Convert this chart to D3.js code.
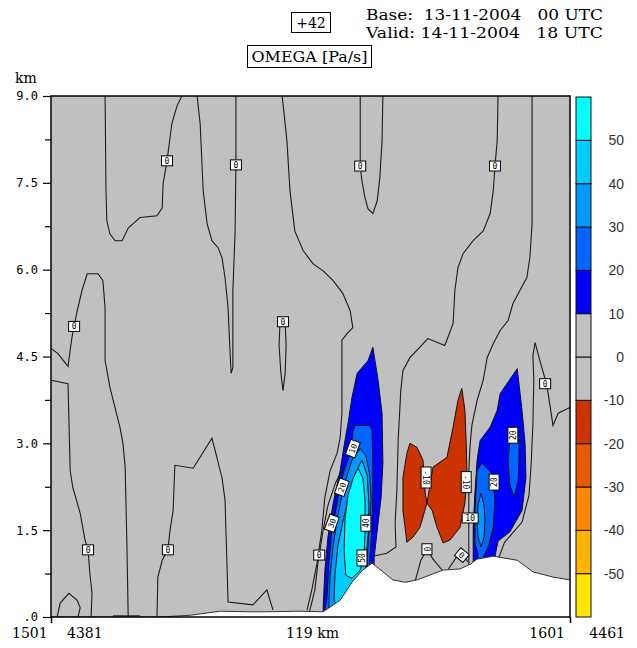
<!DOCTYPE html>
<html>
<head>
<meta charset="utf-8">
<script src="https://cdn.jsdelivr.net/npm/d3@7"></script>
<style>
  body { margin: 0; background: #fff; }
  svg { display: block; }
  text { white-space: pre; }
</style>
</head>
<body>
<svg class="chart" width="637" height="648"></svg>
<script>
// vertical section, distance along the section (km) vs height (km)
const sectionLength = 119;
const heightTicks = [0, 1.5, 3, 4.5, 6, 7.5, 9];
const heightLabels = ['.0', '1.5', '3.0', '4.5', '6.0', '7.5', '9.0'];
const minorTicks = [0.75, 2.25, 3.75, 5.25, 6.75, 8.25];
const colorLevels = [-60, -50, -40, -30, -20, -10, 0, 10, 20, 30, 40, 50, 60];
const levelColors = ['#ffe600', '#ffb400', '#ff8800', '#e65a00', '#cc3300', '#c0c0c0',
  '#c0c0c0', '#0000ff', '#0066ff', '#0099ff', '#00ccff', '#00ffff'];
const levelLabels = [-50, -40, -30, -20, -10, 0, 10, 20, 30, 40, 50];

// orography (white)
const terrain = [[0, 0], [25.0, 0], [31.9, 0.03], [38.8, 0.10], [45.6, 0.09], [49.1, 0.09],
  [57.1, 0.10], [62.4, 0.09], [66.3, 0.29], [69.2, 0.62], [71.5, 0.81], [73.6, 0.93],
  [76.1, 0.78], [78.4, 0.64], [81.2, 0.60], [83.9, 0.64], [89.9, 0.81], [93.8, 0.83],
  [96.1, 0.91], [97.7, 1.00], [101.4, 1.05], [106.9, 0.98], [110.5, 0.78], [115.1, 0.69],
  [119, 0.64]];

// shaded omega areas, lower bound of the class in Pa/s
const westUp10 = [[73.8, 4.66], [75.0, 4.09], [75.9, 3.52], [76.1, 2.66], [75.7, 2.07],
  [74.8, 1.50], [74.1, 1.03], [74.1, 0.72], [62.4, 0.03], [62.4, 0.17], [62.8, 0.81],
  [63.5, 1.38], [64.7, 1.97], [66.3, 2.53], [67.4, 3.05], [68.1, 3.34], [69.0, 3.79],
  [70.2, 4.21], [72.7, 4.43]];
const westUp20 = [[69.7, 3.31], [73.1, 3.31], [73.6, 3.22], [73.8, 2.66], [73.8, 2.07],
  [73.6, 1.50], [73.1, 1.03], [73.1, 0.64], [64.0, 0.03], [62.8, 0.12], [63.3, 0.34],
  [63.7, 0.93], [64.4, 1.50], [65.6, 1.97], [67.0, 2.48], [68.6, 2.83], [69.3, 3.22]];
const westUp30 = [[70.9, 2.91], [72.2, 2.79], [73.1, 2.45], [73.4, 2.02], [72.9, 1.50],
  [72.5, 1.03], [72.5, 0.64], [65.1, 0.03], [63.7, 0.16], [64.0, 0.72], [64.7, 1.24],
  [65.8, 1.76], [67.2, 2.28], [69.0, 2.71]];
const westUp40 = [[71.3, 2.71], [72.5, 2.45], [72.9, 1.93], [72.7, 1.41], [72.2, 0.98],
  [72.2, 0.64], [66.3, 0.12], [64.9, 0.29], [65.1, 0.72], [65.8, 1.24], [67.0, 1.67],
  [68.3, 2.10], [69.9, 2.50]];
const westUp50 = [[70.4, 2.57], [71.5, 2.40], [72.0, 2.02], [72.0, 1.50], [71.8, 1.07],
  [70.9, 0.81], [69.0, 0.67], [67.6, 0.72], [67.2, 1.16], [67.4, 1.67], [68.1, 2.10],
  [69.3, 2.40]];
const eastUp10 = [[106.9, 4.29], [108.0, 3.57], [108.7, 3.00], [108.9, 2.41], [108.0, 1.84],
  [105.2, 1.47], [102.5, 1.31], [101.8, 1.05], [101.8, 0.81], [96.8, 0.72], [96.8, 1.10],
  [96.8, 1.55], [97.2, 2.14], [97.7, 2.71], [98.4, 3.05], [100.7, 3.28], [102.3, 3.57],
  [103.0, 3.86]];
const eastUp20a = [[98.8, 2.66], [101.1, 2.48], [101.8, 2.02], [101.4, 1.55], [100.2, 1.21],
  [99.1, 1.03], [99.1, 0.81], [97.9, 0.81], [97.9, 1.10], [97.2, 1.28], [97.2, 1.84],
  [97.7, 2.53]];
const eastUp20b = [[106.9, 3.31], [107.3, 3.05], [107.3, 2.71], [107.1, 2.36], [106.2, 2.07],
  [105.2, 2.28], [104.8, 2.71], [105.2, 3.05]];
const eastUp30 = [[98.6, 2.14], [99.3, 1.93], [99.5, 1.67], [99.3, 1.38], [98.6, 1.21],
  [97.9, 1.38], [97.7, 1.67], [97.9, 1.93]];
const down10 = [[82.3, 3.00], [83.9, 2.93], [85.3, 2.71], [85.8, 2.14], [86.2, 1.97],
  [87.6, 2.59], [90.8, 2.76], [92.2, 3.28], [93.3, 3.74], [94.2, 3.95], [94.9, 3.57],
  [95.2, 3.00], [95.4, 2.41], [94.9, 1.97], [93.8, 1.55], [91.5, 1.33], [89.9, 1.28],
  [88.5, 1.55], [87.4, 1.84], [86.2, 1.97], [84.6, 1.55], [83.0, 1.38], [81.6, 1.29],
  [80.7, 1.84], [80.7, 2.41], [81.6, 2.83]];

const shadedAreas = [
  { value: 10, points: westUp10 }, { value: 20, points: westUp20 },
  { value: 30, points: westUp30 }, { value: 40, points: westUp40 },
  { value: 50, points: westUp50 }, { value: 10, points: eastUp10 },
  { value: 20, points: eastUp20a }, { value: 20, points: eastUp20b },
  { value: 30, points: eastUp30 }, { value: -20, points: down10 }
];

// unshaded isolines (mostly the zero line)
const isolines = [
  [[0, 4.64], [1.6, 4.55], [3.9, 4.33], [4.8, 4.83], [6.0, 5.29], [7.1, 5.64], [8.3, 5.93],
    [10.8, 5.93], [11.9, 5.81], [12.4, 5.34], [12.4, 4.43], [13.5, 3.97], [15.8, 3.28],
    [16.5, 3.00], [17.0, 2.59], [17.4, 1.28], [17.7, 0]],
  [[0, 4.09], [3.9, 4.03], [4.4, 2.53], [5.0, 2.24], [6.7, 1.79], [7.8, 1.33], [8.5, 1.16],
    [8.9, 0.76], [9.4, 0.41], [9.2, 0]],
  [[1.4, 0], [2.1, 0.24], [4.1, 0.41], [6.0, 0.29], [6.7, 0.16], [6.2, 0]],
  [[12.4, 9], [12.6, 7.41], [12.8, 6.84], [13.5, 6.62], [14.7, 6.50], [16.3, 6.50],
    [17.7, 6.72], [20.4, 6.90], [24.3, 6.93], [25.5, 7.07], [25.7, 7.48], [26.6, 7.88],
    [27.7, 8.52], [28.9, 8.83], [30.0, 9]],
  [[33.5, 9], [34.2, 8.52], [34.9, 7.36], [35.8, 6.79], [36.9, 6.50], [38.3, 6.38],
    [39.2, 6.21], [39.9, 5.86], [40.6, 5.34], [41.0, 4.66], [41.3, 4.21], [41.7, 4.31],
    [41.7, 5.64], [42.2, 6.62], [42.4, 7.81], [42.4, 9]],
  [[52.5, 5.09], [52.3, 4.69], [52.7, 4.22], [53.2, 3.91], [53.7, 4.22], [53.9, 4.69],
    [53.7, 5.09]],
  [[53.0, 9], [53.2, 8.86], [54.1, 8.22], [54.8, 7.36], [55.9, 6.67], [57.8, 6.33],
    [60.1, 6.10], [62.4, 5.98], [64.7, 5.81], [66.9, 5.59], [68.6, 5.29], [69.2, 5.00],
    [67.9, 4.90], [66.7, 4.78], [66.7, 4.38], [66.7, 3.52], [66.3, 3.10], [65.6, 2.83],
    [64.0, 2.53], [62.8, 2.07], [62.1, 1.50], [61.0, 0.93], [59.8, 0.47], [58.7, 0.12]],
  [[24.3, 0], [24.5, 0.69], [25.5, 0.98], [26.8, 1.16], [27.3, 1.50], [28.0, 1.84],
    [28.4, 2.62], [32.6, 2.57], [36.9, 3.09], [39.2, 2.41], [39.9, 2.02], [40.6, 0.26],
    [46.3, 0.21], [49.5, 0.47], [50.9, 0.12]],
  [[70.9, 9], [70.9, 7.79], [71.3, 7.53], [72.0, 7.24], [72.7, 7.05], [73.8, 6.97],
    [74.8, 7.19], [75.4, 7.59], [75.9, 8.22], [76.1, 9]],
  [[102.5, 9], [102.3, 8.22], [101.8, 7.79], [101.4, 7.36], [100.7, 6.97], [99.1, 6.67],
    [96.8, 6.50], [94.5, 6.28], [93.3, 6.03], [92.6, 5.64], [92.2, 5.07], [90.3, 4.69],
    [86.4, 4.81], [84.6, 4.66], [82.3, 4.48], [80.7, 4.26], [80.2, 3.91], [79.6, 3.05],
    [79.3, 2.19], [78.9, 1.62], [79.1, 1.21], [77.0, 1.10], [73.8, 1.05]],
  [[110.3, 9], [110.3, 6.79], [109.8, 6.21], [109.1, 5.86], [107.5, 5.64], [105.9, 5.41],
    [104.8, 5.12], [103.0, 4.95], [101.4, 4.72], [100.0, 4.48], [99.1, 4.09], [97.7, 3.74],
    [96.5, 3.31], [96.1, 2.97], [95.8, 2.53], [95.8, 2.02], [95.8, 1.50], [95.8, 0.90]],
  [[119, 3.62], [116.3, 3.52], [115.1, 3.31], [114.4, 3.66], [113.7, 4.00], [112.1, 4.43],
    [111.0, 4.74], [110.5, 4.52], [110.7, 4.09], [110.5, 3.34], [110.1, 2.66], [109.6, 2.10],
    [108.0, 1.64], [104.0, 1.29], [102.7, 1.03]],
  [[59.2, 0.07], [60.5, 0.47], [61.2, 0.93], [62.4, 1.50], [63.5, 1.93], [65.3, 2.33],
    [66.7, 2.53]],
  [[83.5, 0.62], [84.8, 0.98], [86.2, 1.16], [87.6, 1.00], [89.9, 0.79]],
  [[90.8, 0.79], [93.1, 1.05], [94.2, 1.10], [95.6, 0.95]],
  [[14.2, 0.02], [20.4, 0.02]],
  [[34.9, 0.02], [36.5, 0.02]]
];

// contour labels: distance, height, text, angle
const isolineLabels = [
  [5.3, 5.02, '0', 0], [8.5, 1.16, '0', 0], [26.6, 7.88, '0', 0], [26.8, 1.16, '0', 0],
  [42.4, 7.81, '0', 0], [53.2, 5.10, '0', 0], [70.9, 7.79, '0', 0], [101.8, 7.79, '0', 0],
  [113.3, 4.03, '0', 0], [69.2, 2.91, '10', -70], [66.7, 2.24, '20', -70],
  [64.4, 1.62, '30', -70], [61.5, 1.07, '0', 0], [72.2, 1.62, '40', -90],
  [71.3, 1.02, '50', -90], [86.0, 2.41, '-10', 90], [95.2, 2.33, '-10', 90],
  [96.1, 1.71, '10', 0], [101.6, 2.33, '20', -90], [105.9, 3.14, '20', -90],
  [86.2, 1.17, '0', 90], [94.2, 1.07, '0', 40]
];

const startApp = () => {
  const plot = { left: 51, right: 570, top: 96, bottom: 617 };
  const bar = { left: 576, right: 591, top: 97, bottom: 617 };
  const serif = 'DejaVu Serif, serif';

  const x = d3.scaleLinear().domain([0, sectionLength]).range([plot.left, plot.right]);
  const y = d3.scaleLinear().domain([0, 9]).range([plot.bottom, plot.top]);
  const c = d3.scaleLinear().domain([-60, 60]).range([bar.bottom, bar.top]);
  const color = d3.scaleThreshold()
    .domain(colorLevels.slice(1, -1))
    .range(levelColors);

  const svg = d3.select('.chart');
  const line = d3.line().x((p) => x(p[0])).y((p) => y(p[1]));

  svg.append('clipPath').attr('id', 'plotClip')
    .append('rect')
    .attr('x', plot.left).attr('y', plot.top)
    .attr('width', plot.right - plot.left).attr('height', plot.bottom - plot.top);

  const field = svg.append('g').attr('clip-path', 'url(#plotClip)');

  field.append('rect')
    .attr('x', plot.left).attr('y', plot.top)
    .attr('width', plot.right - plot.left).attr('height', plot.bottom - plot.top)
    .attr('fill', color(0));

  field.selectAll('path.area')
    .data(shadedAreas)
    .enter()
    .append('path')
    .attr('class', 'area')
    .attr('d', (a) => line(a.points) + 'Z')
    .attr('fill', (a) => color(a.value + 5))
    .attr('stroke', '#111')
    .attr('stroke-width', 1);

  field.selectAll('path.iso')
    .data(isolines)
    .enter()
    .append('path')
    .attr('class', 'iso')
    .attr('d', line)
    .attr('fill', 'none')
    .attr('stroke', '#1a1a1a')
    .attr('stroke-width', 1.1);

  const ground = terrain.concat([[sectionLength, -0.2], [0, -0.2]]);
  field.append('path')
    .attr('d', line(ground) + 'Z')
    .attr('fill', '#fff')
    .attr('stroke', 'none');
  field.append('path')
    .attr('d', line(terrain))
    .attr('fill', 'none')
    .attr('stroke', '#333')
    .attr('stroke-width', 1);

  const labels = field.selectAll('g.lab')
    .data(isolineLabels)
    .enter()
    .append('g')
    .attr('class', 'lab')
    .attr('transform', (l) => `translate(${x(l[0])},${y(l[1])}) rotate(${l[3]})`);
  labels.append('rect')
    .attr('x', (l) => -(l[2].length * 5 + 6) / 2)
    .attr('y', -5)
    .attr('width', (l) => l[2].length * 5 + 6)
    .attr('height', 10)
    .attr('fill', '#fff')
    .attr('stroke', '#000')
    .attr('stroke-width', 1);
  labels.append('text')
    .attr('text-anchor', 'middle')
    .attr('y', 3)
    .attr('font-family', 'DejaVu Sans Mono, monospace')
    .attr('font-size', 8)
    .text((l) => l[2]);

  // frame and axes
  svg.append('rect')
    .attr('x', plot.left).attr('y', plot.top)
    .attr('width', plot.right - plot.left).attr('height', plot.bottom - plot.top)
    .attr('fill', 'none')
    .attr('stroke', '#000')
    .attr('stroke-width', 1.5);

  const yAxis = svg.append('g')
    .attr('transform', `translate(${plot.left},0)`)
    .call(d3.axisLeft(y).tickValues(heightTicks).tickSize(8).tickSizeOuter(0)
      .tickFormat((d, i) => heightLabels[i]));
  yAxis.select('.domain').remove();
  yAxis.selectAll('text')
    .attr('font-family', 'DejaVu Sans Mono, monospace')
    .attr('font-size', 12)
    .attr('fill', '#000')
    .attr('x', -13);
  yAxis.selectAll('line').attr('stroke', '#000').attr('stroke-width', 1.2);

  svg.append('g')
    .attr('transform', `translate(${plot.left},0)`)
    .call(d3.axisLeft(y).tickValues(minorTicks).tickSize(6).tickFormat(''))
    .call((g) => g.select('.domain').remove())
    .selectAll('line').attr('stroke', '#000').attr('stroke-width', 1.2);

  svg.append('g')
    .attr('transform', `translate(0,${plot.bottom})`)
    .call(d3.axisBottom(x).tickValues([0, sectionLength]).tickSize(6).tickFormat(''))
    .call((g) => g.select('.domain').remove())
    .selectAll('line').attr('stroke', '#000').attr('stroke-width', 1.5);

  svg.append('text').attr('x', 15).attr('y', 83)
    .attr('font-family', serif).attr('font-size', 14).text('km');

  const bottomText = [
    { t: '1501', x: 12, a: 'start' }, { t: '4381', x: 67, a: 'start' },
    { t: '119 km', x: 286, a: 'start' },
    { t: '1601', x: 565, a: 'end' }, { t: '4461', x: 625, a: 'end' }
  ];
  svg.selectAll('text.bottom')
    .data(bottomText)
    .enter()
    .append('text')
    .attr('class', 'bottom')
    .attr('x', (d) => d.x).attr('y', 638)
    .attr('text-anchor', (d) => d.a)
    .attr('font-family', serif).attr('font-size', 14)
    .text((d) => d.t);

  // colour bar
  const bands = d3.pairs(colorLevels);
  svg.selectAll('rect.band')
    .data(bands)
    .enter()
    .append('rect')
    .attr('class', 'band')
    .attr('x', bar.left)
    .attr('y', (b) => c(b[1]))
    .attr('width', bar.right - bar.left)
    .attr('height', (b) => c(b[0]) - c(b[1]))
    .attr('fill', (b) => color(b[0] + 5))
    .attr('stroke', '#111')
    .attr('stroke-width', 1);

  svg.selectAll('text.lev')
    .data(levelLabels)
    .enter()
    .append('text')
    .attr('class', 'lev')
    .attr('x', 624)
    .attr('y', (v) => c(v) + 5)
    .attr('text-anchor', 'end')
    .attr('font-family', 'Liberation Sans, Arial, sans-serif')
    .attr('font-size', 14)
    .attr('fill', '#333')
    .text((v) => v);

  // header
  svg.append('rect').attr('x', 291.5).attr('y', 12.5).attr('width', 39).attr('height', 20)
    .attr('fill', 'none').attr('stroke', '#000');
  svg.append('text').attr('x', 311).attr('y', 28).attr('text-anchor', 'middle')
    .attr('font-family', serif).attr('font-size', 14).text('+42');
  svg.append('text').attr('x', 366).attr('y', 20)
    .attr('font-family', serif).attr('font-size', 14)
    .attr('textLength', 237).attr('lengthAdjust', 'spacingAndGlyphs')
    .text('Base:  13-11-2004   00 UTC');
  svg.append('text').attr('x', 366).attr('y', 38)
    .attr('font-family', serif).attr('font-size', 14)
    .attr('textLength', 237).attr('lengthAdjust', 'spacingAndGlyphs')
    .text('Valid: 14-11-2004   18 UTC');
  svg.append('rect').attr('x', 247.5).attr('y', 45.5).attr('width', 124).attr('height', 22)
    .attr('fill', 'none').attr('stroke', '#000');
  svg.append('text').attr('x', 309.5).attr('y', 62).attr('text-anchor', 'middle')
    .attr('font-family', serif).attr('font-size', 14)
    .attr('textLength', 116).attr('lengthAdjust', 'spacingAndGlyphs')
    .text('OMEGA [Pa/s]');
};

window.onload = startApp;
</script>
</body>
</html>
